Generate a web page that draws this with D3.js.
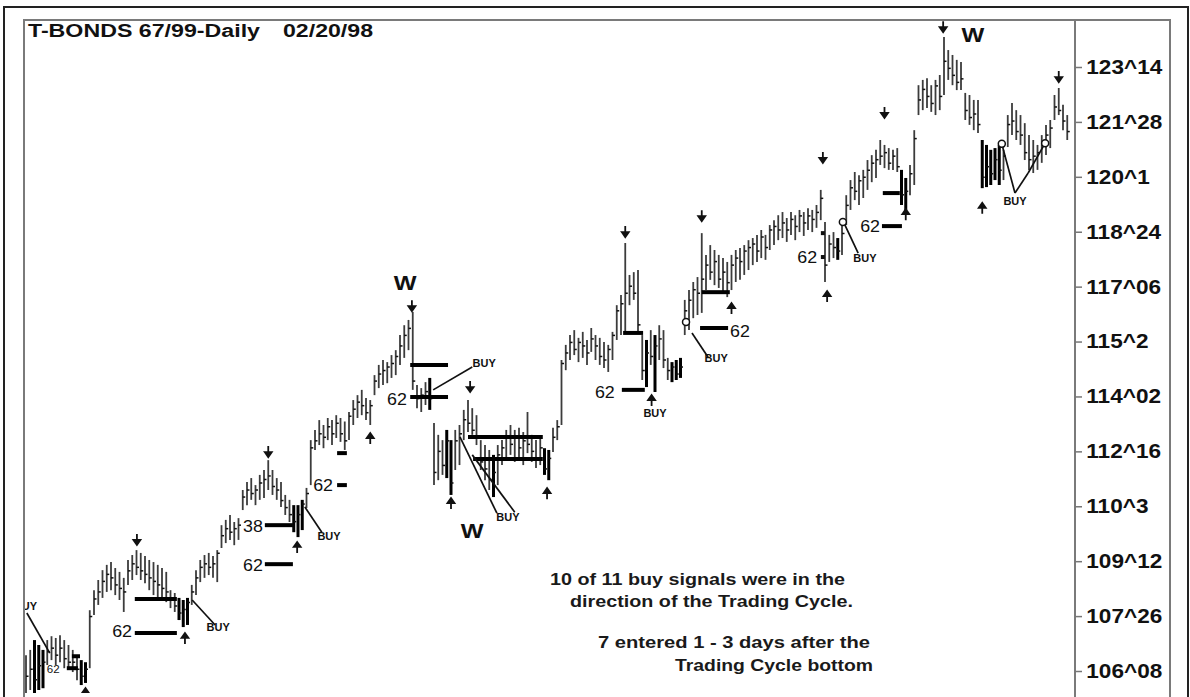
<!DOCTYPE html>
<html>
<head>
<meta charset="utf-8">
<script src="https://cdn.jsdelivr.net/npm/d3@7"></script>
<style>
  body { margin: 0; background: #fff; }
  text { font-family: "Liberation Sans", Arial, sans-serif; }
</style>
</head>
<body>
<div id="chart"></div>
<script>
const W = 1190, H = 697;

// daily bars, T-Bonds, price in points
const highs = [106.70,106.85,107.13,106.99,106.85,107.13,107.24,107.19,107.27,107.13,
106.99,106.85,106.70,106.56,106.50,107.98,108.55,108.84,109.12,109.27,
109.35,109.18,109.07,108.90,109.41,109.55,109.69,109.61,109.52,109.41,
109.35,109.27,109.18,109.07,108.55,108.47,108.33,108.27,108.33,108.70,
109.12,109.41,109.55,109.61,109.52,109.69,110.40,110.55,110.69,110.49,
110.60,111.40,111.63,111.74,111.54,111.83,111.97,112.25,111.97,111.74,
111.63,111.26,111.12,110.97,110.97,111.12,111.46,112.82,113.11,113.39,
113.25,113.45,113.39,113.53,113.45,113.35,113.62,113.96,114.10,114.25,
114.02,113.96,114.67,114.96,115.10,115.04,115.24,115.38,115.81,116.09,
116.24,116.47,114.39,114.30,114.47,114.59,113.31,112.97,112.82,113.11,
112.82,113.11,113.25,113.68,113.96,113.73,113.53,112.82,112.68,112.54,
112.40,112.68,112.82,113.11,113.25,113.11,113.17,113.05,113.62,112.97,
112.82,112.88,112.59,112.54,113.17,113.39,115.10,115.53,115.81,115.95,
115.73,115.90,115.67,116.01,115.81,115.73,115.61,115.53,115.90,116.66,
116.95,118.43,117.52,117.60,117.66,115.81,115.67,115.95,115.81,116.09,
115.95,115.16,115.04,115.10,115.16,116.81,117.09,117.32,117.46,118.71,
118.09,118.37,118.23,118.09,118.00,117.89,118.09,118.23,118.29,118.37,
118.51,118.57,118.66,118.80,118.66,118.94,119.08,119.22,119.31,119.14,
119.31,119.22,119.37,119.31,119.42,119.37,119.51,119.94,119.03,118.66,
118.74,118.57,118.94,119.79,120.22,120.45,120.36,120.51,120.79,120.93,
121.08,121.36,121.22,121.13,121.08,121.13,120.51,120.28,120.65,121.64,
122.92,123.07,123.12,122.92,123.07,123.21,124.29,123.92,123.78,123.64,
123.58,122.70,122.64,122.50,122.50,121.36,121.22,121.08,121.13,121.22,
121.08,122.07,122.41,122.21,122.07,121.84,121.50,121.36,121.22,121.50,
121.79,121.93,122.64,122.84,122.36,122.07];

const lows = [105.60,105.71,105.60,105.71,105.76,106.42,106.56,106.42,106.50,106.33,
106.28,106.22,105.99,105.85,105.91,106.33,107.84,108.13,108.33,108.50,
108.55,108.41,108.27,107.93,108.70,108.84,108.98,108.84,108.75,108.55,
108.41,108.33,108.27,108.21,108.04,107.93,107.70,107.50,107.56,108.13,
108.41,108.78,108.90,108.98,108.90,108.78,109.75,109.89,109.98,109.83,
109.98,110.83,110.97,111.12,110.97,111.12,111.17,111.40,111.26,111.12,
110.92,110.69,110.49,110.20,110.06,110.26,110.89,111.54,112.54,112.68,
112.59,112.82,112.68,112.88,112.77,112.54,112.82,113.25,113.45,113.53,
113.39,113.25,114.10,114.30,114.39,114.44,114.59,114.67,114.96,115.16,
115.38,114.25,113.73,113.62,113.82,113.68,111.54,111.68,111.83,111.74,
111.26,111.97,112.11,112.82,113.05,112.97,112.68,111.97,111.68,111.40,
111.20,111.54,112.11,112.25,112.40,112.20,112.31,112.11,112.45,112.20,
112.03,112.11,111.83,111.68,112.48,112.82,113.25,114.81,115.10,115.24,
115.04,115.16,114.96,115.33,115.10,114.96,114.87,114.76,115.10,115.67,
115.81,115.87,116.66,116.81,115.87,114.53,114.33,114.96,114.19,115.10,
114.87,114.53,114.47,114.53,114.59,115.81,115.95,116.29,116.38,116.44,
117.09,117.38,117.23,117.15,117.03,116.89,117.09,117.32,117.38,117.52,
117.66,117.80,117.89,118.00,117.95,118.23,118.37,118.51,118.57,118.46,
118.66,118.51,118.74,118.63,118.80,118.74,118.86,119.08,117.32,117.89,
118.00,117.95,118.09,118.94,119.37,119.65,119.51,119.71,119.94,120.16,
120.28,120.65,120.56,120.51,120.51,120.45,119.51,119.37,119.79,120.08,
122.07,122.21,122.27,122.16,122.07,122.21,122.64,123.07,122.92,122.78,
122.78,121.93,121.79,121.64,121.56,119.99,120.02,120.08,120.22,120.08,
120.22,121.16,121.50,121.36,121.22,120.79,120.51,120.42,120.51,120.71,
120.93,121.13,121.93,122.07,121.64,121.36];

const closes = [106.1,106.3,106.0,106.4,106.5,106.8,106.9,106.7,106.9,106.6,
106.5,106.5,106.3,106.1,106.3,107.8,108.3,108.5,108.8,109.0,
108.9,108.7,108.6,108.5,109.1,109.3,109.2,109.1,109.0,108.9,
108.8,108.7,108.6,108.5,108.3,108.1,107.9,108.0,108.2,108.5,
108.9,109.2,109.3,109.2,109.3,109.6,110.1,110.3,110.2,110.3,
110.4,111.2,111.4,111.3,111.4,111.6,111.7,111.8,111.5,111.4,
111.1,110.9,110.7,110.5,110.7,111.0,111.3,112.6,112.8,113.0,
112.9,113.2,113.0,113.3,113.0,112.8,113.5,113.7,113.9,113.8,
113.6,113.8,114.5,114.7,114.8,114.9,115.0,115.2,115.5,115.8,
116.0,114.5,114.0,114.1,114.2,114.0,111.9,112.5,112.1,112.8,
111.6,112.8,113.0,113.4,113.3,113.1,112.9,112.2,112.0,111.7,
111.9,112.4,112.6,112.9,112.7,112.9,112.6,112.8,112.7,112.5,
112.3,112.6,112.0,112.3,112.9,113.2,115.0,115.3,115.6,115.4,
115.6,115.5,115.3,115.7,115.5,115.2,115.1,115.4,115.8,116.5,
116.7,117.0,117.2,117.0,116.1,114.8,115.3,115.2,115.5,115.7,
115.1,114.8,114.9,114.7,114.9,116.5,116.8,117.1,117.0,117.4,
117.8,117.6,117.9,117.4,117.6,117.3,117.8,118.0,117.9,118.2,
118.3,118.4,118.2,118.6,118.3,118.8,118.9,118.8,119.0,118.8,
119.1,118.9,119.2,119.0,119.2,119.1,119.3,119.7,117.8,118.4,
118.3,118.2,118.7,119.5,120.0,119.9,120.2,120.3,120.5,120.7,
120.8,120.9,121.0,120.7,120.9,120.6,119.8,119.9,120.4,121.4,
122.5,122.8,122.6,122.4,122.9,122.6,123.6,123.4,123.2,123.0,
123.1,122.2,122.0,122.1,121.8,120.3,120.6,120.4,120.8,120.5,
120.9,121.8,121.9,121.6,121.5,121.0,120.8,120.9,121.0,121.2,
121.5,121.7,122.3,122.2,121.9,121.6];

// bars drawn bold in the source
const heavyBars = [2,3,4,13,14,36,37,38,63,64,65,95,99,100,110,122,123,146,148,152,153,154,191,206,207,225,226,227,228,229];

// price axis: ticks every 1 18/32
const tickValues = [106.25,107.8125,109.375,110.9375,112.5,114.0625,115.625,117.1875,118.75,120.3125,121.875,123.4375];
const tickLabels = ["106^08","107^26","109^12","110^3","112^16","114^02","115^2","117^06","118^24","120^1","121^28","123^14"];

// annotations, [bar index, price]
const arrowsDown = [[26.1,109.98],[57,112.48],[90.8,116.63],[104.5,114.33],[141,118.74],[159,119.19],[187.5,120.85],[202,122.13],[215.8,124.57],[243,123.15]];
const arrowsUp = [[14,105.62],[37.4,107.19],[63.8,109.78],[81,112.88],[100,111.03],[122.6,111.31],[147.2,113.96],[166,116.58],[188.5,116.92],[207,119.25],[225,119.43]];
const waveLabels = [[89.2,117.09],[105,110.03],[222.8,124.15]];
const retraceLabels = [["62",22.6,107.21],["38",53.4,110.20],["62",53.4,109.09],["62",69.9,111.37],["62",87.3,113.82],["62",136.2,114.02],["62",168,115.75],["62",183.8,117.86],["62",198.6,118.74]];
const retraceLines = [[9.6,12.2,106.33],[10.8,12.7,106.67],[25.6,35.5,107.33],[25.6,35.5,108.30],[56.2,62.8,110.40],[56.2,62.8,109.29],
  [73.2,75.5,111.54],[73.2,75.5,112.45],[90.4,99.3,114.96],[90.4,99.3,114.05],[104,121.6,112.91],[105.2,121.6,112.28],
  [140.5,145.2,115.87],[140.2,145.6,114.25],[158.6,165.2,116.01],[159,165.6,117.03],[201.6,205.6,119.85],[201.4,206.1,118.91]];
const buyLabels = [[2.6,107.98,"end"],[45.2,107.39],[71.3,109.98],[107.8,114.90],[113.4,110.52],[148,113.48],[162.4,115.04],[197.4,117.89],[232.7,119.51]];
const buyLines = [[0.2,107.9,5.6,106.76],[39.1,108.27,44.5,107.56],[65.6,110.92,69.6,110.20],[95.8,114.25,105,114.90],
  [102.1,112.91,110.8,110.74],[105,112.40,115,110.77],[156.7,115.87,160.5,115.18],[192.7,118.94,195.8,118.14],
  [229.6,121.25,232.7,119.85],[232.7,119.85,235.8,120.42],[235.8,120.42,239.8,121.27]];
const entryCircles = [[155.3,116.18],[192.2,119.03],[229.6,121.25],[239.8,121.27]];
const dots = [[187.5,118.71],[187.5,118.03]];

const noteLines = [
  ["10 of 11 buy signals were in the", 550, 585, 295],
  ["direction of the Trading Cycle.", 570, 607, 283],
  ["7 entered 1 - 3 days after the", 598, 648, 272],
  ["Trading Cycle bottom", 675, 671, 198]
];

const svg = d3.select("#chart").append("svg")
  .attr("width", W).attr("height", H);

svg.append("rect").attr("width", W).attr("height", H).attr("fill", "#fff");

const plotLeft = 24, plotTop = 20, plotRight = 1075, plotBottom = 692;

const x = d3.scaleLinear().domain([0, highs.length - 1]).range([26, 1067.25]);
const y = d3.scaleLinear().domain([106.25, 123.4375]).range([671, 67]);

// frames
svg.append("rect").attr("x", 4).attr("y", 7).attr("width", 1184).attr("height", 720)
  .attr("fill", "none").attr("stroke", "#222").attr("stroke-width", 2);
svg.append("rect").attr("x", plotLeft).attr("y", plotTop).attr("width", 1146).attr("height", 700)
  .attr("fill", "none").attr("stroke", "#7a7a7a").attr("stroke-width", 2);
svg.append("line").attr("x1", plotRight).attr("x2", plotRight).attr("y1", plotTop).attr("y2", H)
  .attr("stroke", "#7a7a7a").attr("stroke-width", 2);

svg.append("clipPath").attr("id", "plot").append("rect")
  .attr("x", plotLeft + 1).attr("y", plotTop + 1)
  .attr("width", plotRight - plotLeft - 2).attr("height", plotBottom - plotTop);

const plot = svg.append("g").attr("clip-path", "url(#plot)");

// bars
const idx = d3.range(highs.length);
const heavy = new Set(heavyBars);
plot.selectAll("line.bar").data(idx).join("line")
  .attr("class", "bar")
  .attr("x1", i => x(i)).attr("x2", i => x(i))
  .attr("y1", i => y(highs[i])).attr("y2", i => y(lows[i]))
  .attr("stroke", i => heavy.has(i) ? "#000" : "#3c3c3c")
  .attr("stroke-width", i => heavy.has(i) ? 3 : 1.8);
plot.selectAll("line.close").data(idx).join("line")
  .attr("class", "close")
  .attr("x1", i => x(i)).attr("x2", i => x(i) + 2.5)
  .attr("y1", i => y(closes[i])).attr("y2", i => y(closes[i]))
  .attr("stroke", "#111").attr("stroke-width", 1.5);

// retracement lines
plot.selectAll("line.ret").data(retraceLines).join("line")
  .attr("class", "ret")
  .attr("x1", d => x(d[0])).attr("x2", d => x(d[1]))
  .attr("y1", d => y(d[2])).attr("y2", d => y(d[2]))
  .attr("stroke", "#000").attr("stroke-width", 4);

// buy connectors
plot.selectAll("line.buy").data(buyLines).join("line")
  .attr("class", "buy")
  .attr("x1", d => x(d[0])).attr("y1", d => y(d[1]))
  .attr("x2", d => x(d[2])).attr("y2", d => y(d[3]))
  .attr("stroke", "#111").attr("stroke-width", 1.7);

plot.selectAll("circle.entry").data(entryCircles).join("circle")
  .attr("class", "entry")
  .attr("cx", d => x(d[0])).attr("cy", d => y(d[1])).attr("r", 3.5)
  .attr("fill", "#fff").attr("stroke", "#111").attr("stroke-width", 1.5);

plot.selectAll("rect.dot").data(dots).join("rect")
  .attr("class", "dot")
  .attr("x", d => x(d[0]) - 2).attr("y", d => y(d[1]) - 2)
  .attr("width", 4).attr("height", 4).attr("fill", "#111");

// arrows
const arrowDown = "M0,-6L0,4M-3.5,0L0,5L3.5,0Z";
const arrowUp = "M0,6L0,-4M-3.5,0L0,-5L3.5,0Z";
plot.selectAll("path.ad").data(arrowsDown).join("path")
  .attr("class", "ad")
  .attr("transform", d => `translate(${x(d[0])},${y(d[1])})`)
  .attr("d", arrowDown).attr("stroke", "#111").attr("stroke-width", 1.8).attr("fill", "#111");
plot.selectAll("path.au").data(arrowsUp).join("path")
  .attr("class", "au")
  .attr("transform", d => `translate(${x(d[0])},${y(d[1])})`)
  .attr("d", arrowUp).attr("stroke", "#111").attr("stroke-width", 1.8).attr("fill", "#111");

// labels
function label(str, i, p, font, sx, anchor) {
  plot.append("text")
    .attr("transform", `translate(${x(i)},${y(p)}) scale(${sx},1)`)
    .attr("text-anchor", anchor || "middle")
    .style("font", font)
    .attr("fill", "#111")
    .text(str);
}

waveLabels.forEach(d => label("W", d[0], d[1], "bold 21px 'Liberation Sans', Arial, sans-serif", 1.15));
retraceLabels.forEach(d => label(d[0], d[1], d[2], "17px 'Liberation Sans', Arial, sans-serif", 1.05));
label("62", 6.4, 106.19, "11px 'Liberation Sans', Arial, sans-serif", 1.05);
buyLabels.forEach(d => label("BUY", d[0], d[1], "bold 10px 'Liberation Sans', Arial, sans-serif", 1.1, d[2]));

// notes
noteLines.forEach(d => {
  svg.append("text")
    .attr("x", d[1]).attr("y", d[2])
    .attr("textLength", d[3]).attr("lengthAdjust", "spacingAndGlyphs")
    .style("font", "bold 16px 'Liberation Sans', Arial, sans-serif")
    .attr("fill", "#1a1a1a")
    .text(d[0]);
});

// title
svg.append("text").attr("x", 28).attr("y", 37)
  .attr("textLength", 232).attr("lengthAdjust", "spacingAndGlyphs")
  .style("font", "bold 18px 'Liberation Sans', Arial, sans-serif").attr("fill", "#111")
  .text("T-BONDS 67/99-Daily");
svg.append("text").attr("x", 283).attr("y", 37)
  .attr("textLength", 90).attr("lengthAdjust", "spacingAndGlyphs")
  .style("font", "bold 18px 'Liberation Sans', Arial, sans-serif").attr("fill", "#111")
  .text("02/20/98");

// price axis
const yAxis = d3.axisRight(y)
  .tickValues(tickValues)
  .tickFormat((d, i) => tickLabels[i])
  .tickSize(7)
  .tickPadding(3);

svg.append("g")
  .attr("transform", `translate(${plotRight},0)`)
  .call(yAxis)
  .call(g => g.select(".domain").remove())
  .call(g => g.selectAll(".tick line").attr("stroke", "#777").attr("stroke-width", 1.5))
  .call(g => g.selectAll(".tick text")
    .style("font", "bold 20px 'Liberation Sans', Arial, sans-serif")
    .attr("fill", "#111")
    .attr("transform", "scale(1.13,1)"));
</script>
</body>
</html>
